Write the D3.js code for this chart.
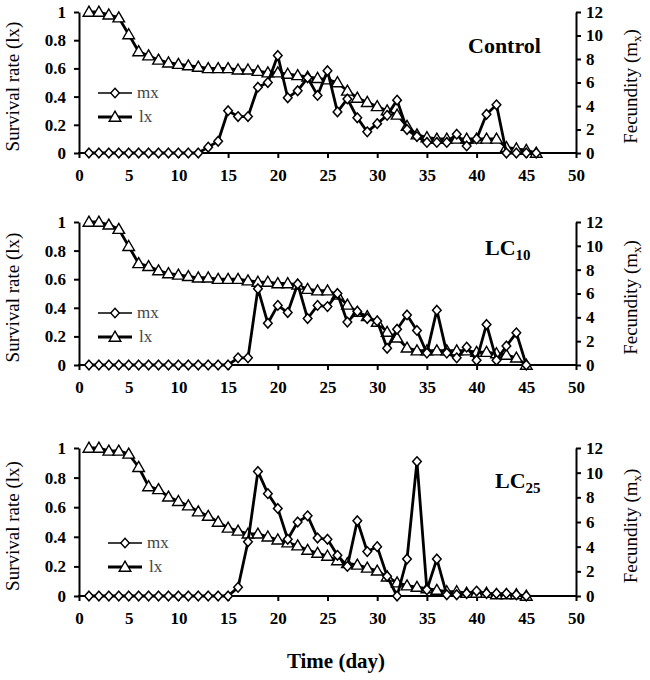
<!DOCTYPE html>
<html><head><meta charset="utf-8">
<script src="https://cdn.jsdelivr.net/npm/d3@7"></script>
<style>body{margin:0;background:#fff}svg{display:block}</style>
</head><body>
<script>
// ---- data ----
const days46 = [1,2,3,4,5,6,7,8,9,10,11,12,13,14,15,16,17,18,19,20,21,22,23,24,25,26,27,28,29,30,31,32,33,34,35,36,37,38,39,40,41,42,43,44,45,46];
const days45 = [1,2,3,4,5,6,7,8,9,10,11,12,13,14,15,16,17,18,19,20,21,22,23,24,25,26,27,28,29,30,31,32,33,34,35,36,37,38,39,40,41,42,43,44,45];

const controlLx = [1.00,1.00,0.98,0.96,0.84,0.72,0.69,0.66,0.64,0.63,0.62,0.61,0.60,0.60,0.60,0.59,0.59,0.58,0.57,0.57,0.56,0.55,0.54,0.53,0.52,0.50,0.44,0.39,0.36,0.33,0.30,0.27,0.19,0.13,0.11,0.10,0.10,0.10,0.10,0.10,0.10,0.10,0.04,0.03,0.02,0.00];
const controlMx = [0,0,0,0,0,0,0,0,0,0,0,0,0.5,1.0,3.6,3.1,3.1,5.6,6.0,8.3,4.7,5.3,6.4,4.9,7.0,3.5,4.6,3.0,1.8,2.5,3.2,4.5,2.0,1.4,0.9,0.9,0.9,1.6,0.6,1.2,3.3,4.1,0,0,0,0];

const lc10Lx = [1.00,1.00,0.98,0.95,0.83,0.71,0.69,0.66,0.64,0.63,0.62,0.61,0.61,0.60,0.60,0.60,0.59,0.58,0.58,0.57,0.57,0.56,0.53,0.52,0.52,0.49,0.42,0.37,0.34,0.30,0.23,0.19,0.12,0.10,0.10,0.10,0.10,0.10,0.10,0.09,0.09,0.08,0.07,0.05,0.00];
const lc10Mx = [0,0,0,0,0,0,0,0,0,0,0,0,0,0,0,0.6,0.6,6.4,3.5,5.0,4.4,6.8,3.9,5.0,4.9,6.0,3.6,4.5,3.9,3.7,1.4,3.0,4.2,2.9,1.0,4.6,1.0,0.6,1.5,0.4,3.4,0.4,1.6,2.7,0];

const lc25Lx = [1.00,1.00,0.98,0.98,0.96,0.87,0.74,0.72,0.67,0.64,0.61,0.57,0.54,0.50,0.46,0.44,0.42,0.42,0.40,0.38,0.36,0.34,0.31,0.29,0.27,0.24,0.22,0.21,0.19,0.17,0.13,0.09,0.07,0.06,0.05,0.04,0.03,0.03,0.02,0.02,0.02,0.01,0.01,0.01,0.00];
const lc25Mx = [0,0,0,0,0,0,0,0,0,0,0,0,0,0,0,0.7,4.4,10.1,8.3,7.1,4.6,6.0,6.5,4.7,4.6,3.3,2.4,6.1,3.6,4.0,1.6,0.0,3.0,10.9,0.5,3.0,0.1,0.1,0.2,0.4,0.2,0.2,0.2,0.1,0.0];

const xTicks = [0,5,10,15,20,25,30,35,40,45,50];
const leftTicks = [0,0.2,0.4,0.6,0.8,1];
const rightTicks = [0,2,4,6,8,10,12];
const panelNames = ["Control","LC","LC"];
const panelSubs = ["","10","25"];
const legendLabels = ["mx","lx"];

// ---- layout ----
const W = 650, H = 680;
const xLeft = 79, xRight = 576;
const panels = [
  {name:panelNames[0], sub:panelSubs[0], days:days46, lx:controlLx, mx:controlMx, top:12, bot:153, tx:468, ty:53, ly:93, lgx:98},
  {name:panelNames[1], sub:panelSubs[1], days:days45, lx:lc10Lx, mx:lc10Mx, top:222, bot:365, tx:485, ty:255, ly:313, lgx:98},
  {name:panelNames[2], sub:panelSubs[2], days:days45, lx:lc25Lx, mx:lc25Mx, top:448, bot:596, tx:495, ty:488, ly:543, lgx:108}
];

const svg = d3.select("body").append("svg").attr("width",W).attr("height",H);
const font = "'Liberation Serif','Times New Roman',serif";
const x = d3.scaleLinear().domain([0,50]).range([xLeft,xRight]);

const diamond = "M0,-4.8L4.3,0L0,4.8L-4.3,0Z";
const triangle = "M0,-5.8L5.8,4.2L-5.8,4.2Z";

panels.forEach(p => {
  const yL = d3.scaleLinear().domain([0,1]).range([p.bot,p.top]);
  const yR = d3.scaleLinear().domain([0,12]).range([p.bot,p.top]);
  const g = svg.append("g");

  const ax = g.append("g").attr("transform",`translate(0,${p.bot})`)
    .call(d3.axisBottom(x).tickValues(xTicks).tickSize(5).tickSizeOuter(0).tickPadding(11).tickFormat(d3.format("d")));
  const ayl = g.append("g").attr("transform",`translate(${xLeft},0)`)
    .call(d3.axisLeft(yL).tickValues(leftTicks).tickSize(5).tickSizeOuter(0).tickPadding(8).tickFormat(d => d===0||d===1 ? String(d) : d3.format(".1f")(d)));
  const ayr = g.append("g").attr("transform",`translate(${xRight},0)`)
    .call(d3.axisRight(yR).tickValues(rightTicks).tickSize(5).tickSizeOuter(0).tickPadding(5).tickFormat(d3.format("d")));
  [ax,ayl,ayr].forEach(a => {
    a.select(".domain").attr("stroke","#000").attr("stroke-width",2);
    a.selectAll(".tick line").attr("stroke","#000").attr("stroke-width",2);
    a.selectAll("text").attr("font-family",font).attr("font-weight","bold").attr("font-size",17).attr("fill","#000");
  });
  ax.select(".domain").attr("d",`M${xLeft-1},0H${xRight+1}`);

  const lxData = p.days.map((d,i)=>({d, v:p.lx[i]}));
  const mxData = p.days.map((d,i)=>({d, v:p.mx[i]}));
  g.append("path").datum(lxData)
    .attr("d", d3.line().x(o=>x(o.d)).y(o=>yL(o.v)))
    .attr("fill","none").attr("stroke","#000").attr("stroke-width",2.8).attr("stroke-linejoin","round");
  g.selectAll(".tri").data(lxData).enter().append("path")
    .attr("d",triangle).attr("transform",o=>`translate(${x(o.d)},${yL(o.v)})`)
    .attr("fill","#fff").attr("stroke","#000").attr("stroke-width",1.4);
  g.append("path").datum(mxData)
    .attr("d", d3.line().x(o=>x(o.d)).y(o=>yR(o.v)))
    .attr("fill","none").attr("stroke","#000").attr("stroke-width",2.8).attr("stroke-linejoin","round");
  g.selectAll(".dia").data(mxData).enter().append("path")
    .attr("d",diamond).attr("transform",o=>`translate(${x(o.d)},${yR(o.v)})`)
    .attr("fill","#fff").attr("stroke","#000").attr("stroke-width",1.5);

  const t = g.append("text").attr("x",p.tx).attr("y",p.ty)
    .attr("font-family",font).attr("font-weight","bold").attr("font-size",22).attr("fill","#000");
  t.append("tspan").text(p.name);
  if (p.sub) t.append("tspan").attr("font-size",15).attr("dy",5).text(p.sub);

  const lg = g.append("g");
  lg.append("line").attr("x1",p.lgx).attr("x2",p.lgx+34).attr("y1",p.ly).attr("y2",p.ly).attr("stroke","#000").attr("stroke-width",1.4);
  lg.append("path").attr("d",diamond).attr("transform",`translate(${p.lgx+17},${p.ly})`).attr("fill","#fff").attr("stroke","#000").attr("stroke-width",1.4);
  lg.append("text").attr("x",p.lgx+39).attr("y",p.ly+5).attr("font-family",font).attr("font-size",17).attr("fill","#444").text(legendLabels[0]);
  lg.append("line").attr("x1",p.lgx).attr("x2",p.lgx+34).attr("y1",p.ly+24).attr("y2",p.ly+24).attr("stroke","#000").attr("stroke-width",3);
  lg.append("path").attr("d",triangle).attr("transform",`translate(${p.lgx+17},${p.ly+24})`).attr("fill","#fff").attr("stroke","#000").attr("stroke-width",1.4);
  lg.append("text").attr("x",p.lgx+41).attr("y",p.ly+29).attr("font-family",font).attr("font-size",17).attr("fill","#444").text(legendLabels[1]);

  const cy = (p.top+p.bot)/2 + 4;
  g.append("text").attr("transform",`translate(19,${cy}) rotate(-90)`).attr("text-anchor","middle")
    .attr("font-family",font).attr("font-size",19).attr("fill","#000").text("Survival rate (lx)");
  const rt = g.append("text").attr("transform",`translate(637,${cy}) rotate(-90)`).attr("text-anchor","middle")
    .attr("font-family",font).attr("font-size",19).attr("fill","#000");
  rt.append("tspan").text("Fecundity (m");
  rt.append("tspan").attr("font-size",13).attr("dy",4).text("x");
  rt.append("tspan").attr("dy",-4).text(")");
});

svg.append("text").attr("x",336).attr("y",668).attr("text-anchor","middle")
  .attr("font-family",font).attr("font-weight","bold").attr("font-size",21).attr("fill","#000").text("Time (day)");
</script>
</body></html>
